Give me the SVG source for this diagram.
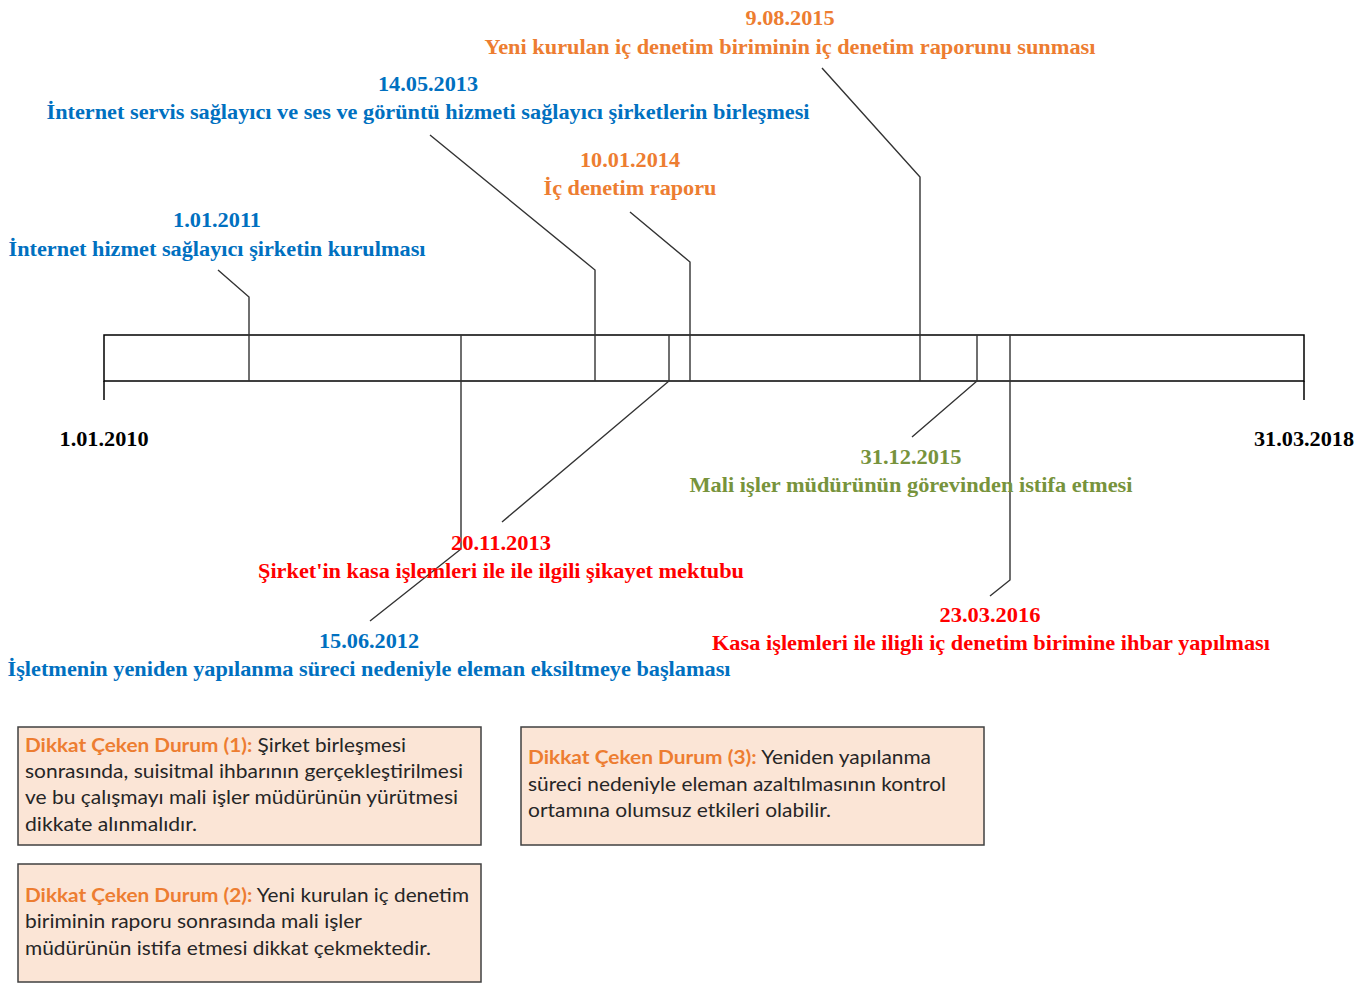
<svg xmlns="http://www.w3.org/2000/svg" width="1370" height="983" viewBox="0 0 1370 983">
<style>
.t{font-family:"Liberation Serif","Times New Roman",serif;font-weight:bold;font-size:21px;text-anchor:middle}
.blue{fill:#0070C0}.orange{fill:#ED7D31}.green{fill:#77933C}.red{fill:#FF0000}.black{fill:#000}
.bar{fill:none;stroke:#000;stroke-width:1.5}
.con{fill:none;stroke:#333;stroke-width:1.4}
.box{fill:#FBE5D6;stroke:#404040;stroke-width:1.5}
.bt{font-family:Lato,"Open Sans",sans-serif;font-size:19px;fill:#262626}
.bh{font-weight:bold;fill:#ED7D31}
</style>
<rect width="1370" height="983" fill="#fff"/>
<g id="timeline">
<rect class="bar" x="104" y="335" width="1200" height="46"/>
<line class="bar" x1="104" y1="381" x2="104" y2="400"/>
<line class="bar" x1="1304" y1="381" x2="1304" y2="400"/>
<text class="t black" x="104" y="446" textLength="89" lengthAdjust="spacingAndGlyphs">1.01.2010</text>
<text class="t black" x="1304" y="446" textLength="100" lengthAdjust="spacingAndGlyphs">31.03.2018</text>
</g>
<g id="connectors">
<polyline class="con" points="218,270 249,297 249,381"/>
<polyline class="con" points="430,135 595,270 595,381"/>
<polyline class="con" points="630,212 690,262 690,381"/>
<polyline class="con" points="822,68 920,177 920,381"/>
<polyline class="con" points="669,335 669,381 502,522"/>
<polyline class="con" points="461,335 461,549 370,621"/>
<polyline class="con" points="977,335 977,381 912,437"/>
<polyline class="con" points="1010,335 1010,580 990,596"/>
</g>
<g id="e2015a">
<text class="t orange" x="790" y="25" textLength="89" lengthAdjust="spacingAndGlyphs">9.08.2015</text>
<text class="t orange" x="790" y="54" textLength="611" lengthAdjust="spacingAndGlyphs">Yeni kurulan iç denetim biriminin iç denetim raporunu sunması</text>
</g>
<g id="e2013a">
<text class="t blue" x="428" y="91" textLength="100" lengthAdjust="spacingAndGlyphs">14.05.2013</text>
<text class="t blue" x="428" y="119" textLength="763" lengthAdjust="spacingAndGlyphs">İnternet servis sağlayıcı ve ses ve görüntü hizmeti sağlayıcı şirketlerin birleşmesi</text>
</g>
<g id="e2014">
<text class="t orange" x="630" y="167" textLength="100" lengthAdjust="spacingAndGlyphs">10.01.2014</text>
<text class="t orange" x="630" y="195" textLength="173" lengthAdjust="spacingAndGlyphs">İç denetim raporu</text>
</g>
<g id="e2011">
<text class="t blue" x="217" y="227" textLength="88" lengthAdjust="spacingAndGlyphs">1.01.2011</text>
<text class="t blue" x="217" y="256" textLength="417" lengthAdjust="spacingAndGlyphs">İnternet hizmet sağlayıcı şirketin kurulması</text>
</g>
<g id="e2015b">
<text class="t green" x="911" y="464" textLength="101" lengthAdjust="spacingAndGlyphs">31.12.2015</text>
<text class="t green" x="911" y="492" textLength="443" lengthAdjust="spacingAndGlyphs">Mali işler müdürünün görevinden istifa etmesi</text>
</g>
<g id="e2013b">
<text class="t red" x="501" y="550" textLength="100" lengthAdjust="spacingAndGlyphs">20.11.2013</text>
<text class="t red" x="501" y="578" textLength="486" lengthAdjust="spacingAndGlyphs">Şirket'in kasa işlemleri ile ile ilgili şikayet mektubu</text>
</g>
<g id="e2016">
<text class="t red" x="990" y="622" textLength="101" lengthAdjust="spacingAndGlyphs">23.03.2016</text>
<text class="t red" x="991" y="650" textLength="558" lengthAdjust="spacingAndGlyphs">Kasa işlemleri ile iligli iç denetim birimine ihbar yapılması</text>
</g>
<g id="e2012">
<text class="t blue" x="369" y="648" textLength="100" lengthAdjust="spacingAndGlyphs">15.06.2012</text>
<text class="t blue" x="369" y="676" textLength="723" lengthAdjust="spacingAndGlyphs">İşletmenin yeniden yapılanma süreci nedeniyle eleman eksiltmeye başlaması</text>
</g>
<g id="box1">
<rect class="box" x="18" y="727" width="463" height="118"/>
<text class="bt" x="25" y="752" textLength="381" lengthAdjust="spacingAndGlyphs"><tspan class="bh">Dikkat Çeken Durum (1):</tspan> Şirket birleşmesi</text>
<text class="bt" x="25" y="778" textLength="438" lengthAdjust="spacingAndGlyphs">sonrasında, suisitmal ihbarının gerçekleştirilmesi</text>
<text class="bt" x="25" y="804" textLength="433" lengthAdjust="spacingAndGlyphs">ve bu çalışmayı mali işler müdürünün yürütmesi</text>
<text class="bt" x="25" y="831" textLength="172" lengthAdjust="spacingAndGlyphs">dikkate alınmalıdır.</text>
</g>
<g id="box2">
<rect class="box" x="18" y="864" width="463" height="118"/>
<text class="bt" x="25" y="902" textLength="444" lengthAdjust="spacingAndGlyphs"><tspan class="bh">Dikkat Çeken Durum (2):</tspan> Yeni kurulan iç denetim</text>
<text class="bt" x="25" y="928" textLength="337" lengthAdjust="spacingAndGlyphs">biriminin raporu sonrasında mali işler</text>
<text class="bt" x="25" y="955" textLength="406" lengthAdjust="spacingAndGlyphs">müdürünün istifa etmesi dikkat çekmektedir.</text>
</g>
<g id="box3">
<rect class="box" x="521" y="727" width="463" height="118"/>
<text class="bt" x="528" y="764" textLength="403" lengthAdjust="spacingAndGlyphs"><tspan class="bh">Dikkat Çeken Durum (3):</tspan> Yeniden yapılanma</text>
<text class="bt" x="528" y="791" textLength="418" lengthAdjust="spacingAndGlyphs">süreci nedeniyle eleman azaltılmasının kontrol</text>
<text class="bt" x="528" y="817" textLength="303" lengthAdjust="spacingAndGlyphs">ortamına olumsuz etkileri olabilir.</text>
</g>
</svg>
